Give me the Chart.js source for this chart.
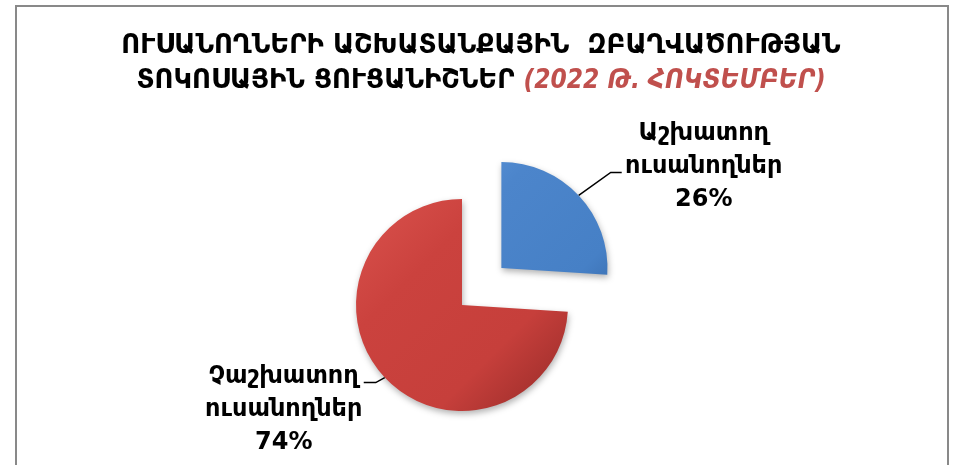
<!DOCTYPE html>
<html><head><meta charset="utf-8">
<script src="https://cdn.jsdelivr.net/npm/chart.js@4"></script>
<style>html,body{margin:0;padding:0;background:#fff;overflow:hidden}#wrap{width:955px;height:465px;position:relative}</style>
</head><body><div id="wrap"><canvas id="c" width="955" height="465"></canvas></div>
<script>
// ---- data ----
const categories = ['Աշխատող ուսանողներ', 'Չաշխատող ուսանողներ'];
const labelLines = [['Աշխատող', 'ուսանողներ'], ['Չաշխատող', 'ուսանողներ']];
const shares = [26, 74];
const titleLine1 = 'ՈՒՍԱՆՈՂՆԵՐԻ ԱՇԽԱՏԱՆՔԱՅԻՆ  ԶԲԱՂՎԱԾՈՒԹՅԱՆ';
const titleLine2 = 'ՏՈԿՈՍԱՅԻՆ ՑՈՒՑԱՆԻՇՆԵՐ';
const titleDate = '(2022 Թ. ՀՈԿՏԵՄԲԵՐ)';

// ---- styles ----
const sliceStops = [
  [[0, '#5a93d8'], [0.25, '#4c85cb'], [0.75, '#4680c6'], [1, '#3466a6']],
  [[0, '#d44c47'], [0.25, '#cb423e'], [0.75, '#c63f3b'], [1, '#a8322f']]
];
const sliceOffsets = [216, 0];
const RADIUS = 106;
const LABEL_FONT = 'bold 24px "DejaVu Sans", sans-serif';
const TITLE_FONT = 'bold 26px "DejaVu Sans", sans-serif';
const TITLE_FONT_IT = 'italic bold 26px "DejaVu Sans Condensed", "DejaVu Sans", sans-serif';

function sliceCenter(chart, i) {
  const a = chart.chartArea;
  const cx = (a.left + a.right) / 2, cy = (a.top + a.bottom) / 2;
  const total = shares.reduce((s, v) => s + v, 0);
  let before = 0; for (let k = 0; k < i; k++) before += shares[k];
  const start = -Math.PI / 2 + 2 * Math.PI * before / total;
  const circ = 2 * Math.PI * shares[i] / total;
  const half = start + circ / 2;
  const off = sliceOffsets[i] / 4;
  const shift = off + off * (1 - Math.sin(Math.min(Math.PI, circ)));
  return { x: cx + Math.cos(half) * shift, y: cy + Math.sin(half) * shift };
}

function sliceFill(ctx) {
  const chart = ctx.chart, i = ctx.dataIndex;
  if (i === undefined || !sliceStops[i]) return '#888888';
  if (!chart.chartArea) return sliceStops[i][1][1];
  const c = sliceCenter(chart, i);
  const d = RADIUS * 0.75;
  const g = chart.ctx.createLinearGradient(c.x - d, c.y - d, c.x + d, c.y + d);
  sliceStops[i].forEach(s => g.addColorStop(s[0], s[1]));
  return g;
}

const framePlugin = {
  id: 'frame',
  beforeDraw(chart) {
    const c = chart.ctx;
    c.save();
    c.fillStyle = '#ffffff';
    c.fillRect(0, 0, chart.width, chart.height);
    c.strokeStyle = '#898989';
    c.lineWidth = 2;
    c.strokeRect(16, 6, 932, 520);
    c.restore();
  }
};

const shadowPlugin = {
  id: 'shadow',
  beforeDatasetsDraw(chart) {
    const c = chart.ctx;
    c.save();
    c.shadowColor = 'rgba(0,0,0,0.3)';
    c.shadowBlur = 6;
    c.shadowOffsetX = 1;
    c.shadowOffsetY = 3;
  },
  afterDatasetsDraw(chart) { chart.ctx.restore(); }
};

const titlePlugin = {
  id: 'titleText',
  afterDraw(chart) {
    const c = chart.ctx;
    const cx = 481;
    c.save();
    c.textBaseline = 'alphabetic';
    c.fillStyle = '#000';
    c.font = TITLE_FONT;
    c.textAlign = 'center';
    c.fillText(titleLine1, cx, 53);
    c.textAlign = 'left';
    const w1 = c.measureText(titleLine2 + ' ').width;
    c.font = TITLE_FONT_IT;
    const w2 = c.measureText(titleDate).width;
    const x0 = cx - (w1 + w2) / 2;
    c.font = TITLE_FONT;
    c.fillText(titleLine2 + ' ', x0, 88);
    c.font = TITLE_FONT_IT;
    c.fillStyle = '#c0504d';
    c.fillText(titleDate, x0 + w1, 88);
    c.restore();
  }
};

const labelPlacement = [
  { elbow: [32, -23], tail: 11, text: [125, -62] },
  { elbow: [-9, 5], tail: -12, text: [-101, -1] }
];

const labelPlugin = {
  id: 'sliceLabels',
  afterDatasetsDraw(chart) {
    const c = chart.ctx;
    const meta = chart.getDatasetMeta(0);
    const total = shares.reduce((s, v) => s + v, 0);
    meta.data.forEach((el, i) => {
      const half = (el.startAngle + el.endAngle) / 2;
      const off = ((el.options && el.options.offset) || 0) / 4;
      const circ = el.endAngle - el.startAngle;
      const shift = off + off * (1 - Math.sin(Math.min(Math.PI, circ)));
      const px = el.x + Math.cos(half) * (shift + el.outerRadius);
      const py = el.y + Math.sin(half) * (shift + el.outerRadius);
      const L = labelPlacement[i];
      const ex = px + L.elbow[0], ey = py + L.elbow[1];
      c.save();
      c.strokeStyle = '#000';
      c.lineWidth = 1.5;
      c.beginPath();
      c.moveTo(px, py);
      c.lineTo(ex, ey);
      c.lineTo(ex + L.tail, ey);
      c.stroke();
      c.fillStyle = '#000';
      c.font = LABEL_FONT;
      c.textAlign = 'center';
      c.textBaseline = 'middle';
      const tx = px + L.text[0];
      const lines = labelLines[i].concat([Math.round(shares[i] / total * 100) + '%']);
      lines.forEach((t, k) => c.fillText(t, tx, py + L.text[1] + k * 33));
      c.restore();
    });
  }
};

new Chart(document.getElementById('c'), {
  type: 'pie',
  data: {
    labels: categories,
    datasets: [{
      data: shares,
      backgroundColor: sliceFill,
      borderWidth: 0,
      offset: sliceOffsets
    }]
  },
  options: {
    responsive: false,
    animation: false,
    devicePixelRatio: 1,
    radius: RADIUS,
    layout: { padding: { left: 100, right: 131, top: 150, bottom: 5 } },
    plugins: { legend: { display: false }, tooltip: { enabled: false }, title: { display: false } }
  },
  plugins: [framePlugin, shadowPlugin, labelPlugin, titlePlugin]
});
</script>
</body></html>
